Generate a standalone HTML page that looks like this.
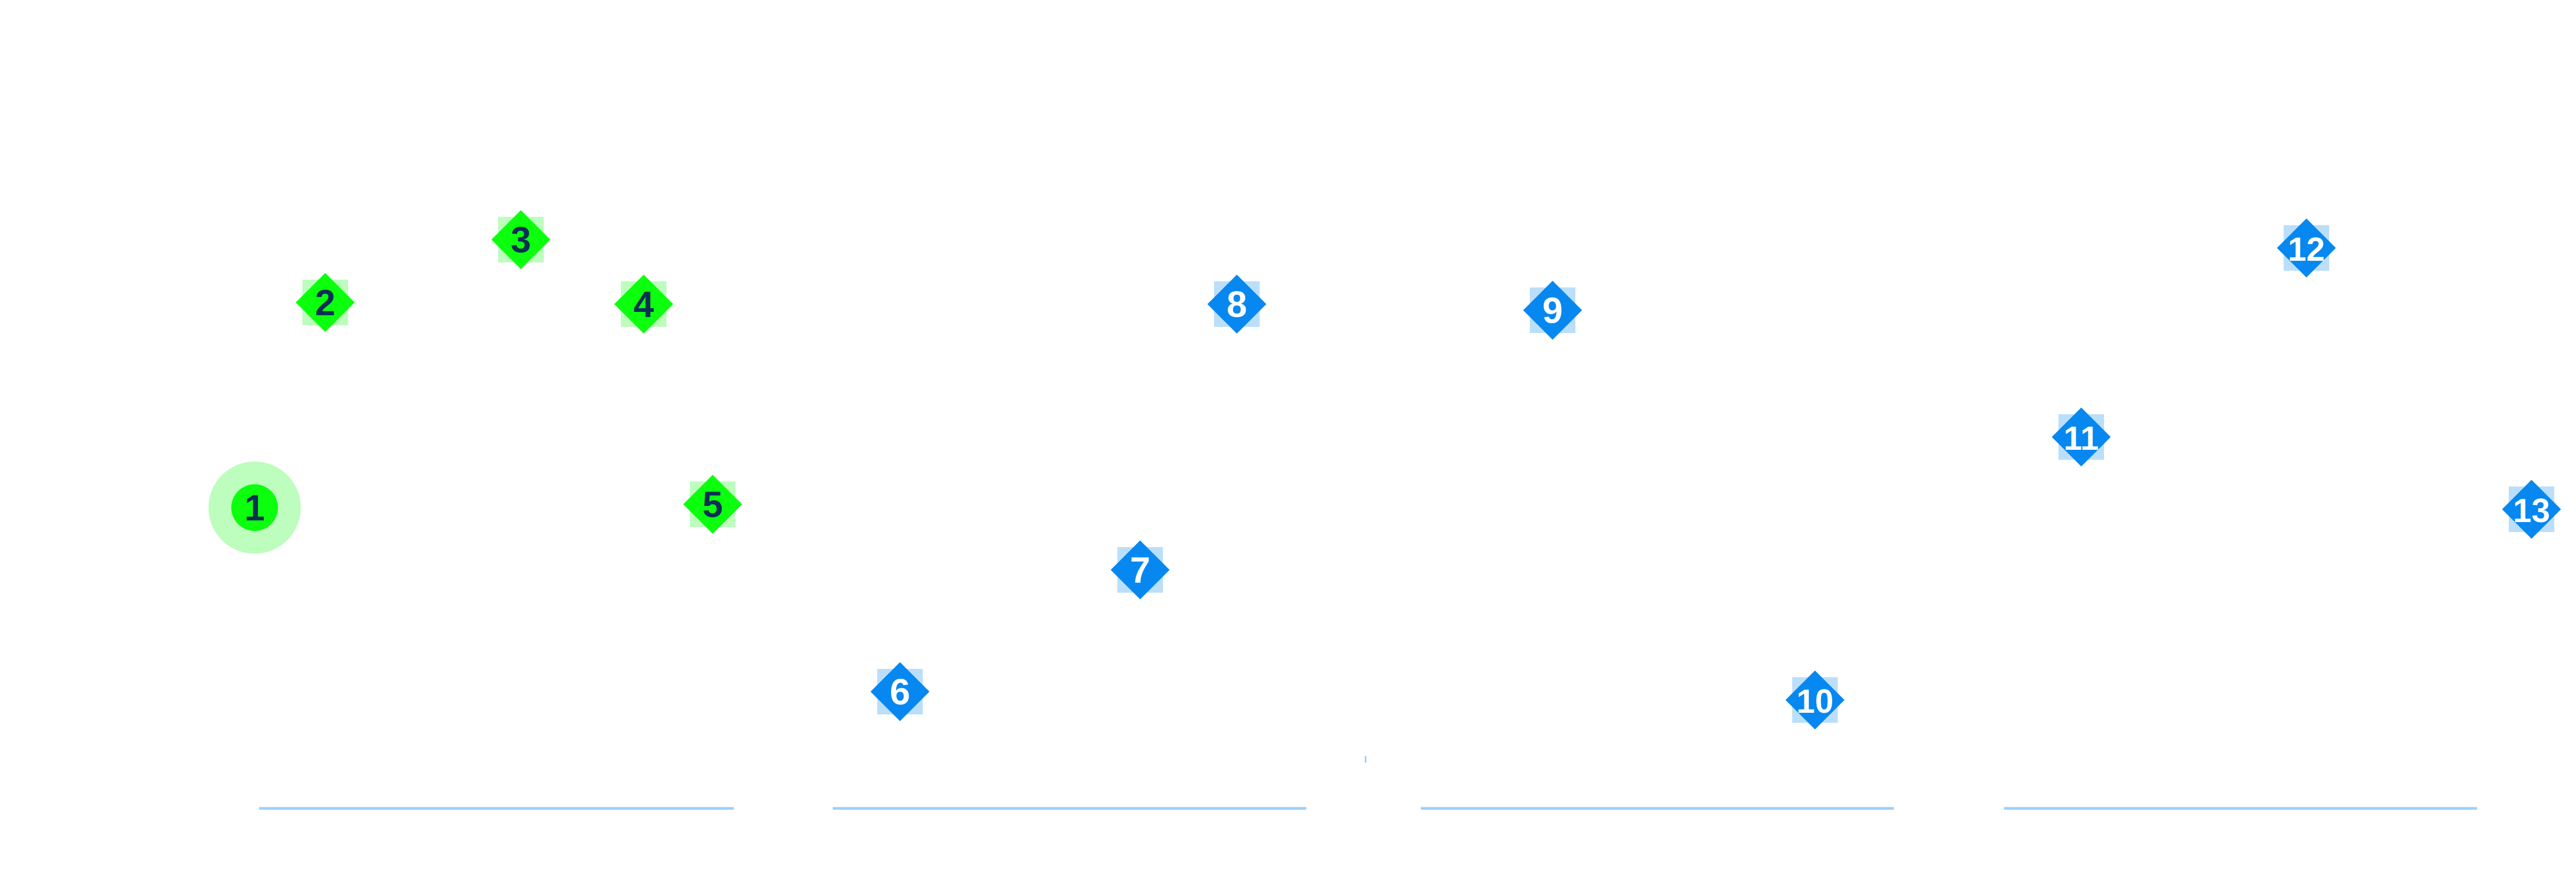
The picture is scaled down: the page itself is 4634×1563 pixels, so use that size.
<!DOCTYPE html>
<html><head><meta charset="utf-8"><style>
html,body{margin:0;padding:0;background:#fff;}
svg{display:block;}
text{font-family:"Liberation Sans","DejaVu Sans",sans-serif;font-weight:bold;}
</style></head><body>
<svg id="chart" width="4634" height="1563" viewBox="0 0 4634 1563">
<g id="baselines"></g>
<g id="marks"></g>
</svg>
<script>
const labels = ["1","2","3","4","5","6","7","8","9","10","11","12","13"];
const xValues = [45.8,58.5,93.7,115.8,128.2,161.9,205.1,222.5,279.3,326.5,374.4,414.9,455.4];
const yValues = [54.1,91.0,102.3,90.7,54.7,21.0,42.9,90.7,89.6,19.5,66.8,100.8,53.8];
const groups = ["green","green","green","green","green","blue","blue","blue","blue","blue","blue","blue","blue"];
const segStarts = [46.6,149.8,255.6,360.5];
const segEnds = [132.0,235.0,340.7,445.6];

const NS = "http://www.w3.org/2000/svg";
const baseY = 1454;
function xs(v){ return v*10; }
function ys(v){ return baseY - v*10; }
function mk(tag, attrs, parent){ const e=document.createElementNS(NS,tag); for(const k in attrs) e.setAttribute(k,attrs[k]); parent.appendChild(e); return e; }

const bl = document.getElementById('baselines');
for(let i=0;i<segStarts.length;i++){
  const l = mk('rect',{x:xs(segStarts[i]),y:baseY-2.5,width:xs(segEnds[i])-xs(segStarts[i]),height:5,fill:'#9fd0f7'},bl);
  
  
}
const tick = mk('rect',{x:2455,y:1360,width:3,height:12,fill:'#9fd0f7'},bl);



const g = document.getElementById('marks');
for(let i=0;i<labels.length;i++){
  const cx = xs(xValues[i]), cy = ys(yValues[i]);
  const grp = mk('g',{},g);
  
  
  const green = groups[i]==='green';
  const main = green ? '#0cff0c' : '#0788f0';
  const light = green ? '#bdfdbd' : '#bbdffa';
  if(i===0){
    mk('circle',{cx:cx,cy:cy,r:83,fill:light},grp);
    mk('circle',{cx:cx,cy:cy,r:42,fill:main},grp);
  } else {
    mk('rect',{x:cx-41,y:cy-41,width:82,height:82,fill:light},grp);
    mk('polygon',{points:`${cx},${cy-53} ${cx+53},${cy} ${cx},${cy+53} ${cx-53},${cy}`,fill:main},grp);
  }
  const t = mk('text',{x:cx,y:cy+23,'text-anchor':'middle','font-size':labels[i].length>1?60:66,fill:green?'#0b2f55':'#ffffff'},grp);
  t.textContent = labels[i];
  
  
}
</script>
</body></html>
